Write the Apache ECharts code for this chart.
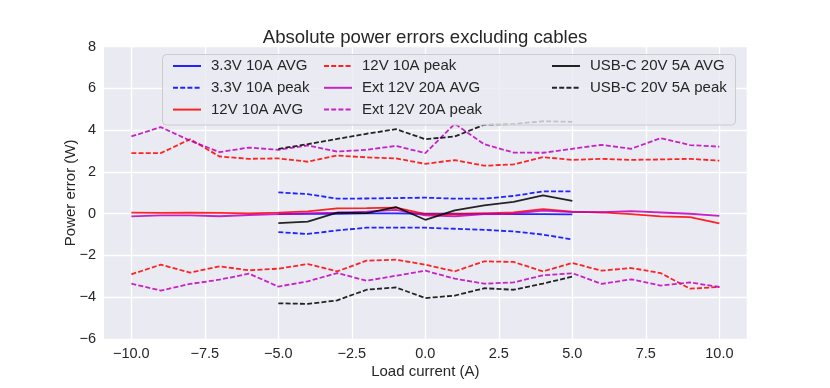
<!DOCTYPE html>
<html>
<head>
<meta charset="utf-8">
<script src="https://cdn.jsdelivr.net/npm/echarts@6/dist/echarts.min.js"></script>
<style>
html,body{margin:0;padding:0;background:#fff;}
#chart{width:830px;height:388px;}
</style>
</head>
<body>
<div id="chart"></div>
<script>
// ---- data ----
const xFull = [-10,-9,-8,-7,-6,-5,-4,-3,-2,-1,0,1,2,3,4,5,6,7,8,9,10];
const xHalf = [-5,-4,-3,-2,-1,0,1,2,3,4,5];

const v33Avg   = [-0.02,0.0,0.0,0.02,0.02,0.0,0.0,0.0,-0.02,-0.02,-0.03];
const v33PeakHi= [1.02,0.94,0.72,0.73,0.75,0.77,0.72,0.72,0.85,1.07,1.07];
const v33PeakLo= [-0.88,-0.97,-0.80,-0.67,-0.67,-0.67,-0.72,-0.77,-0.85,-1.0,-1.23];

const v12Avg   = [0.05,0.04,0.05,0.04,0.02,0.05,0.11,0.26,0.27,0.29,-0.02,-0.02,0.02,0.06,0.22,0.10,0.06,-0.02,-0.13,-0.16,-0.46];
const v12PeakHi= [2.90,2.90,3.57,2.74,2.63,2.65,2.49,2.79,2.70,2.65,2.39,2.57,2.30,2.36,2.71,2.58,2.63,2.58,2.60,2.63,2.54];
const v12PeakLo= [-2.90,-2.44,-2.82,-2.52,-2.71,-2.63,-2.41,-2.76,-2.25,-2.20,-2.44,-2.76,-2.28,-2.31,-2.76,-2.36,-2.73,-2.60,-2.84,-3.59,-3.51];

const extAvg   = [-0.13,-0.08,-0.08,-0.12,-0.06,-0.02,0.02,0.05,0.10,0.18,-0.08,-0.12,-0.02,0.0,0.15,0.08,0.08,0.12,0.06,0.0,-0.10];
const extPeakHi= [3.70,4.15,3.50,2.95,3.17,3.06,3.27,2.98,3.06,3.25,2.90,4.31,3.33,2.93,2.92,3.11,3.30,3.11,3.62,3.29,3.21];
const extPeakLo= [-3.35,-3.68,-3.36,-3.16,-2.87,-3.49,-3.24,-2.84,-3.21,-2.97,-2.73,-3.11,-3.35,-3.29,-2.95,-2.85,-3.36,-3.14,-3.44,-3.29,-3.51];

const usbAvg   = [-0.45,-0.38,0.05,0.03,0.32,-0.29,0.16,0.40,0.57,0.88,0.62];
const usbPeakHi= [3.11,3.33,3.58,3.83,4.05,3.57,3.70,4.26,4.30,4.43,4.40];
const usbPeakLo= [-4.29,-4.32,-4.15,-3.64,-3.53,-4.04,-3.92,-3.57,-3.64,-3.35,-3.01];

const xTicks = [-10,-7.5,-5,-2.5,0,2.5,5,7.5,10];
const names = ['3.3V 10A AVG','3.3V 10A peak','12V 10A AVG','12V 10A peak','Ext 12V 20A AVG','Ext 12V 20A peak','USB-C 20V 5A AVG','USB-C 20V 5A peak'];

// ---- build ----
const FONT = '"Liberation Sans", Arial, Helvetica, sans-serif';
const TXT = '#262626';
const C = {b:'#0000ff', r:'#ff0000', m:'#bf00bf', k:'#000000'};
function mk(name, xs, ys, color, dashed){
  return {
    name, type:'line', data: xs.map((x,i)=>[x, ys[i]]),
    symbol:'none', showSymbol:false, silent:true, animation:false,
    lineStyle:{color, width:1.8, opacity:0.85, type: dashed ? [5,2.2] : 'solid'},
    itemStyle:{color}
  };
}
const series = [
  mk(names[0], xHalf, v33Avg, C.b, false),
  mk(names[1], xHalf, v33PeakHi, C.b, true),
  mk(names[1], xHalf, v33PeakLo, C.b, true),
  mk(names[2], xFull, v12Avg, C.r, false),
  mk(names[3], xFull, v12PeakHi, C.r, true),
  mk(names[3], xFull, v12PeakLo, C.r, true),
  mk(names[4], xFull, extAvg, C.m, false),
  mk(names[5], xFull, extPeakHi, C.m, true),
  mk(names[5], xFull, extPeakLo, C.m, true),
  mk(names[6], xHalf, usbAvg, C.k, false),
  mk(names[7], xHalf, usbPeakHi, C.k, true),
  mk(names[7], xHalf, usbPeakLo, C.k, true)
];
function fmt(v, d){ const s = Math.abs(v).toFixed(d); return (v < 0 ? '\u2212' : '') + s; }
function legend(data, left){
  return {
    data, left, top: 58.5, orient:'vertical', itemWidth:28, itemHeight:14, itemGap:6.8,
    padding:0, z: 6, selectedMode:false,
    itemStyle:{opacity:0, borderWidth:0},
    textStyle:{fontFamily:FONT, fontSize:15, color:TXT, lineHeight:14, padding:[0,0,0,5]}
  };
}
const chart = echarts.init(document.getElementById('chart'), null, {renderer:'canvas'});
chart.setOption({
  animation:false,
  backgroundColor:'#ffffff',
  textStyle:{fontFamily:FONT},
  title:{text:'Absolute power errors excluding cables', left:420, top:23, textAlign:'center',
    textStyle:{fontFamily:FONT, fontSize:18.6, fontWeight:'normal', color:TXT}},
  grid:{left:104, right:83.3, top:46.7, bottom:49, show:true, backgroundColor:'#eaeaf2', borderWidth:0},
  xAxis:{type:'value', min:-10.93, max:10.93,
    name:'Load current (A)', nameLocation:'middle', nameGap:25, nameMoveOverlap:false,
    nameTextStyle:{fontFamily:FONT, fontSize:15, color:TXT},
    axisLine:{show:false}, axisTick:{show:false, customValues:xTicks},
    axisLabel:{customValues:xTicks, fontFamily:FONT, fontSize:14.5, color:TXT, margin:7, formatter:v=>fmt(v,1)},
    splitLine:{show:true, customValues:xTicks, lineStyle:{color:'#ffffff', width:1.3}}},
  yAxis:{type:'value', min:-6, max:8, interval:2,
    name:'Power error (W)', nameLocation:'middle', nameGap:26, nameMoveOverlap:false,
    nameTextStyle:{fontFamily:FONT, fontSize:15, color:TXT},
    axisLine:{show:false}, axisTick:{show:false},
    axisLabel:{fontFamily:FONT, fontSize:14.5, color:TXT, margin:8, formatter:v=>fmt(v,0)},
    splitLine:{show:true, lineStyle:{color:'#ffffff', width:1.3}}},
  legend:[
    legend([names[0],names[1],names[2]], 172),
    legend([names[3],names[4],names[5]], 323),
    legend([names[6],names[7]], 551)
  ],
  graphic:[{type:'rect', z:5, silent:true,
    shape:{x:162.5, y:54.5, width:573, height:70.5, r:4},
    style:{fill:'rgba(234,234,242,0.8)', stroke:'#cccccc', lineWidth:1}}],
  series
});
</script>
</body>
</html>
